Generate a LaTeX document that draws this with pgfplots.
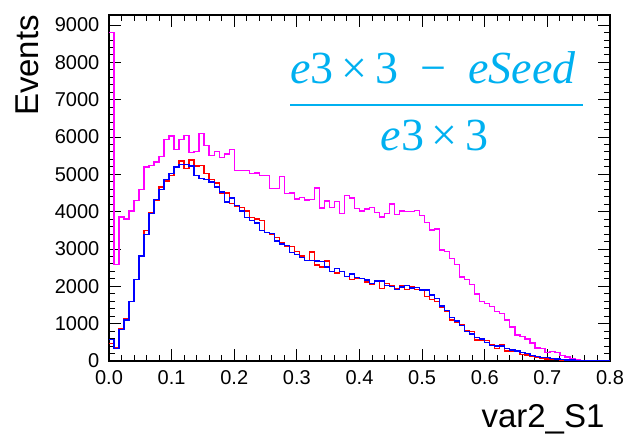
\documentclass[border=0pt]{standalone}
\usepackage{fontspec}
\setmainfont{Liberation Sans}
\newfontfamily\fracfont{Liberation Serif}
\usepackage{pgfplots}
\pgfplotsset{compat=1.18}
\usepackage{pgfplotstable}
\definecolor{fraccyan}{RGB}{0,176,240}
\definecolor{hmag}{RGB}{255,0,255}
\definecolor{hred}{RGB}{255,0,0}
\definecolor{hblue}{RGB}{0,0,255}
\pgfplotstableread{
x m r b
0.000 8800 470 580
0.008 2590 360 340
0.016 3860 875 850
0.024 3800 1120 1100
0.032 4020 1590 1590
0.040 4300 2180 2180
0.048 4600 2830 2810
0.056 5200 3500 3390
0.064 5230 3980 3950
0.072 5330 4300 4330
0.080 5480 4660 4590
0.088 5940 4820 4870
0.096 6030 4970 5020
0.104 5660 5210 5200
0.112 5930 5360 5260
0.120 6040 5150 5260
0.128 5590 5390 5220
0.136 5620 5220 4970
0.144 6100 5240 4890
0.152 5770 5020 4860
0.160 5510 4860 4800
0.168 5620 4770 4660
0.176 5460 4500 4530
0.184 5550 4500 4260
0.192 5660 4220 4370
0.200 5110 4140 4170
0.208 5110 4110 4020
0.216 5110 4020 3840
0.224 5020 3840 3770
0.232 5040 3800 3700
0.240 4970 3770 3500
0.248 4970 3440 3440
0.256 4620 3390 3410
0.264 4620 3310 3220
0.272 4950 3160 3130
0.280 4480 3080 3100
0.288 4500 3060 2900
0.296 4340 2940 2850
0.304 4380 2810 2770
0.312 4310 2700 2700
0.320 4330 2920 2700
0.328 4640 2570 2680
0.336 4100 2520 2660
0.344 4290 2680 2520
0.352 4120 2390 2390
0.360 4270 2360 2480
0.368 3950 2390 2390
0.376 4440 2270 2260
0.384 4370 2180 2330
0.392 4080 2210 2240
0.400 4020 2210 2210
0.408 4070 2120 2170
0.416 4120 2060 2080
0.424 3980 2150 2140
0.432 3860 1940 2140
0.440 3950 2080 2030
0.448 4210 2010 1990
0.456 3930 1930 1920
0.464 4020 2030 1980
0.472 4010 1920 2030
0.480 4010 1990 1960
0.488 4040 1920 1970
0.496 3900 1900 1900
0.504 3710 1720 1900
0.512 3510 1650 1770
0.520 3540 1600 1680
0.528 2970 1450 1470
0.536 2930 1320 1350
0.544 2740 1100 1170
0.552 2590 1030 1070
0.560 2250 980 945
0.568 2180 810 785
0.576 2050 785 720
0.584 1800 560 630
0.592 1590 560 590
0.600 1540 545 500
0.608 1460 430 420
0.616 1320 340 400
0.624 1280 428 405
0.632 1100 267 340
0.640 910 250 294
0.648 695 250 267
0.656 650 178 232
0.664 590 160 205
0.672 485 116 143
0.680 350 89 116
0.688 340 71 98
0.696 230 53 89
0.704 250 45 71
0.712 223 35 53
0.720 140 25 35
0.728 110 20 30
0.736 71 15 25
0.744 30 12 20
0.752 15 10 15
0.760 10 8 10
0.768 8 5 8
0.776 5 4 5
0.784 3 3 4
0.792 2 2 3
0.800 2 2 3
}\histdata

\begin{document}
\begin{tikzpicture}
\begin{axis}[
  scale only axis, width=501pt, height=346pt,
  xmin=0, xmax=0.8, ymin=0, ymax=9270,
  xtick={0,0.1,0.2,0.3,0.4,0.5,0.6,0.7,0.8},
  ytick={0,1000,2000,3000,4000,5000,6000,7000,8000,9000},
  minor x tick num=4, minor y tick num=4,
  tick align=inside, tick pos=both,
  major tick length=12pt, minor tick length=6pt,
  every tick/.style={black, line width=1pt},
  axis line style={line width=1.2pt},
  /pgf/number format/assume math mode=true,
  scaled ticks=false,
  ticklabel style={font=\fontsize{20}{24}\selectfont, inner sep=1pt},
  yticklabel style={/pgf/number format/1000 sep={}, xshift=-8.5pt},
  xticklabel style={/pgf/number format/.cd, fixed, fixed zerofill, precision=1, /tikz/yshift=-8.5pt},
  xlabel={var2\_S1}, ylabel={Events},
  label style={font=\fontsize{33}{38}\selectfont},
  xlabel style={at={(rel axis cs:0.996,-0.1908)}, anchor=base east},
  ylabel style={at={(rel axis cs:-0.1337,1.01)}, anchor=south east},
]
\addplot[const plot, hmag, line width=1.4pt] table[x=x,y=m]{\histdata};
\addplot[const plot, hred, line width=1.4pt] table[x=x,y=r]{\histdata};
\addplot[const plot, hblue, line width=1.4pt] table[x=x,y=b]{\histdata};
\node[text=fraccyan, font=\fracfont\fontsize{46}{50}\selectfont, anchor=base, inner sep=0pt]
  at (rel axis cs:0.6467,0.8026) {\textit{e}3\,×\,3\hspace{0.48em}−\hspace{0.48em}\textit{eSeed}};
\node[text=fraccyan, font=\fracfont\fontsize{46}{50}\selectfont, anchor=base, inner sep=0pt]
  at (rel axis cs:0.6497,0.6098) {\textit{e}3\,×\,3};
\draw[fraccyan, line width=2.7pt] (rel axis cs:0.3613,0.7399) -- (rel axis cs:0.9461,0.7399);
\end{axis}
\pgfresetboundingbox
\useasboundingbox (-109pt,-77pt) rectangle (514pt,361pt);
\end{tikzpicture}
\end{document}
